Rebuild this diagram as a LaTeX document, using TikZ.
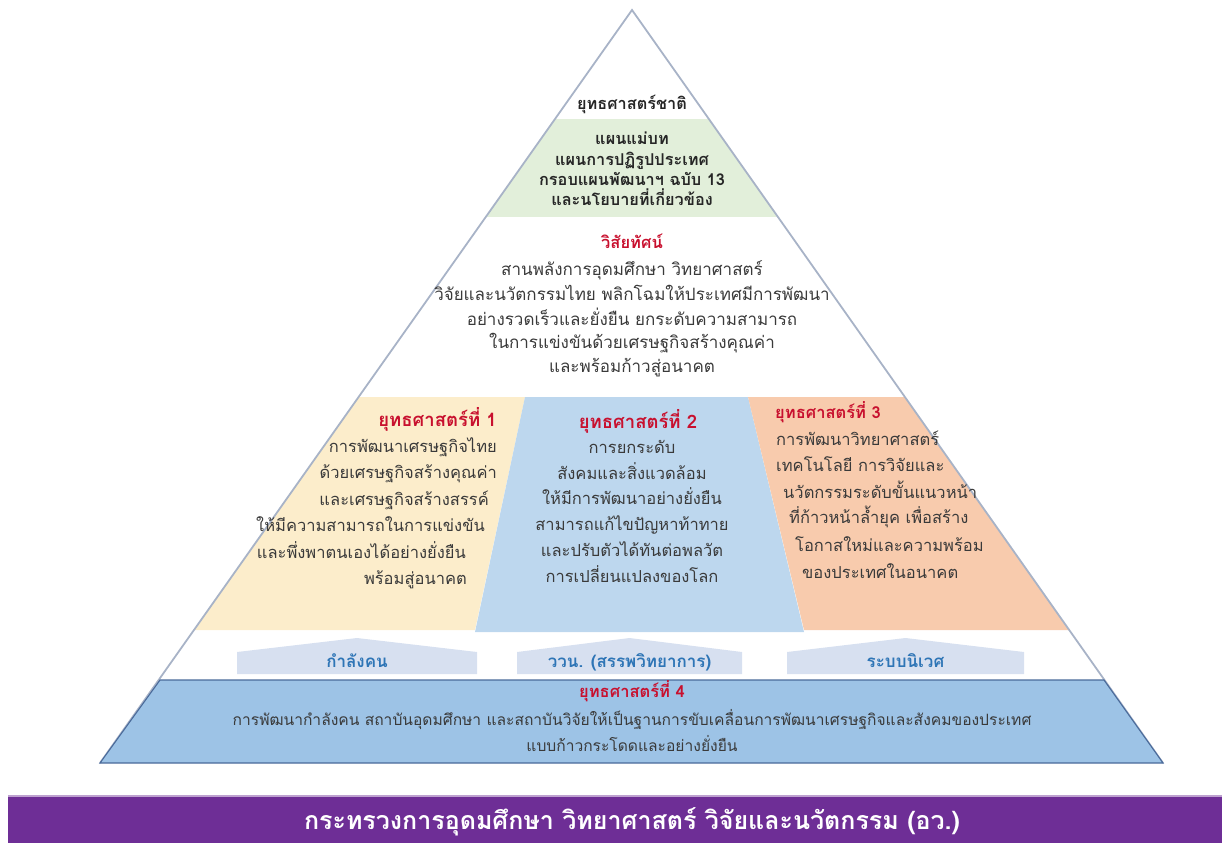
\documentclass[tikz,border=0pt]{standalone}
\usepackage{fontspec}
\setmainfont[Script=Thai]{Loma}
\definecolor{edge}{HTML}{A8B3C7}
\definecolor{greenband}{HTML}{E2EFDA}
\definecolor{yellowband}{HTML}{FCEDCB}
\definecolor{blueband}{HTML}{BDD7EE}
\definecolor{orangeband}{HTML}{F8CBAD}
\definecolor{houseblue}{HTML}{D7E0F0}
\definecolor{baseblue}{HTML}{9DC3E6}
\definecolor{baseline}{HTML}{4A6A9A}
\definecolor{purplebar}{HTML}{6E2E96}
\definecolor{redt}{HTML}{C8102E}
\definecolor{greyt}{HTML}{3A3A3A}
\definecolor{bluet}{HTML}{2E75B6}
\tikzset{
  every node/.style={inner sep=0pt, anchor=base},
  body/.style={text=greyt, font=\fontsize{16.5}{16.5}\selectfont},
  basetext/.style={text=greyt, font=\fontsize{15.6}{15.6}\selectfont},
  vis/.style={text=greyt, font=\fontsize{17}{17}\selectfont},
  redtitle/.style={text=redt, font=\bfseries\fontsize{16.5}{16.5}\selectfont},
  bigredtitle/.style={text=redt, font=\bfseries\fontsize{18.5}{18.5}\selectfont},
  blacktitle/.style={text=black!85, font=\bfseries\fontsize{16.3}{16.3}\selectfont},
  housetext/.style={text=bluet, font=\bfseries\fontsize{17}{17}\selectfont},
  house/.style={fill=houseblue, draw=none},
  bartext/.style={text=white, font=\bfseries\fontsize{25}{25}\selectfont}
}
\begin{document}
\begin{tikzpicture}[x=1pt,y=-1pt]
\useasboundingbox (0,0) rectangle (1222,843);
% triangle corners
\coordinate (apex) at (632,10);
\coordinate (bl) at (100,763);
\coordinate (br) at (1163,763);
% coloured bands clipped to the triangle
\begin{scope}
  \clip (apex) -- (br) -- (bl) -- cycle;
  \fill[greenband] (0,119) rectangle (1222,217);
  \fill[yellowband] (0,397) -- (525,397) -- (475,630) -- (0,630) -- cycle;
  \fill[blueband] (525,397) -- (748,397) -- (804,632) -- (475,632) -- cycle;
  \fill[orangeband] (748,397) -- (1222,397) -- (1222,630) -- (804,630) -- cycle;
\end{scope}
\draw[edge, line width=1.8pt, line join=miter] (bl) -- (apex) -- (br);
% base band (strategy 4)
\draw[fill=baseblue, draw=baseline, line width=1.1pt] (160,680) -- (1104,680) -- (br) -- (bl) -- cycle;
% houses
\fill[house] (237,674) -- (237,652) -- (357,638) -- (477,652) -- (477,674) -- cycle;
\fill[house] (517,674) -- (517,652) -- (629.5,638) -- (742,652) -- (742,674) -- cycle;
\fill[house] (787,674) -- (787,652) -- (905.5,638) -- (1024,652) -- (1024,674) -- cycle;
\node[housetext] (h1) at (357,667) {กำลังคน};
\node[housetext] (h2) at (629.5,667) {ววน. (สรรพวิทยาการ)};
\node[housetext] (h3) at (905.5,667) {ระบบนิเวศ};
% top
\node[blacktitle] (nat) at (632,109) {ยุทธศาสตร์ชาติ};
\node[blacktitle] (g1) at (632,144) {แผนแม่บท};
\node[blacktitle] (g2) at (632,165) {แผนการปฏิรูปประเทศ};
\node[blacktitle] (g3) at (632,185) {กรอบแผนพัฒนาฯ ฉบับ 13};
\node[blacktitle] (g4) at (632,205) {และนโยบายที่เกี่ยวข้อง};
% vision
\node[redtitle] (v0) at (632,248) {วิสัยทัศน์};
\node[vis] (v1) at (632,275) {สานพลังการอุดมศึกษา วิทยาศาสตร์};
\node[vis] (v2) at (632,300) {วิจัยและนวัตกรรมไทย พลิกโฉมให้ประเทศมีการพัฒนา};
\node[vis] (v3) at (632,325) {อย่างรวดเร็วและยั่งยืน ยกระดับความสามารถ};
\node[vis] (v4) at (632,348) {ในการแข่งขันด้วยเศรษฐกิจสร้างคุณค่า};
\node[vis] (v5) at (632,372) {และพร้อมก้าวสู่อนาคต};
% strategy 1
\node[bigredtitle, anchor=base east] (s1t) at (497,426) {ยุทธศาสตร์ที่ 1};
\node[body, anchor=base east] (s1a) at (497,452) {การพัฒนาเศรษฐกิจไทย};
\node[body, anchor=base east] (s1b) at (497,478) {ด้วยเศรษฐกิจสร้างคุณค่า};
\node[body, anchor=base east] (s1c) at (489,505) {และเศรษฐกิจสร้างสรรค์};
\node[body, anchor=base east] (s1d) at (485,531) {ให้มีความสามารถในการแข่งขัน};
\node[body, anchor=base east] (s1e) at (466,558) {และพึ่งพาตนเองได้อย่างยั่งยืน};
\node[body, anchor=base east] (s1f) at (467,584) {พร้อมสู่อนาคต};
% strategy 2
\node[bigredtitle] (s2t) at (638,428) {ยุทธศาสตร์ที่ 2};
\node[body] (s2a) at (632,453) {การยกระดับ};
\node[body] (s2b) at (632,479) {สังคมและสิ่งแวดล้อม};
\node[body] (s2c) at (632,504) {ให้มีการพัฒนาอย่างยั่งยืน};
\node[body] (s2d) at (632,530) {สามารถแก้ไขปัญหาท้าทาย};
\node[body] (s2e) at (632,556) {และปรับตัวได้ทันต่อพลวัต};
\node[body] (s2f) at (632,582) {การเปลี่ยนแปลงของโลก};
% strategy 3
\node[redtitle, anchor=base west] (s3t) at (775,418) {ยุทธศาสตร์ที่ 3};
\node[body, anchor=base west] (s3a) at (776,445) {การพัฒนาวิทยาศาสตร์};
\node[body, anchor=base west] (s3b) at (776,471) {เทคโนโลยี การวิจัยและ};
\node[body, anchor=base west] (s3c) at (783,498) {นวัตกรรมระดับขั้นแนวหน้า};
\node[body, anchor=base west] (s3d) at (789,523) {ที่ก้าวหน้าล้ำยุค เพื่อสร้าง};
\node[body, anchor=base west] (s3e) at (795,551) {โอกาสใหม่และความพร้อม};
\node[body, anchor=base west] (s3f) at (802,578) {ของประเทศในอนาคต};
% strategy 4
\node[redtitle] (s4t) at (632,697) {ยุทธศาสตร์ที่ 4};
\node[basetext] (s4a) at (632,725) {การพัฒนากำลังคน สถาบันอุดมศึกษา และสถาบันวิจัยให้เป็นฐานการขับเคลื่อนการพัฒนาเศรษฐกิจและสังคมของประเทศ};
\node[basetext] (s4b) at (632,751) {แบบก้าวกระโดดและอย่างยั่งยืน};
% ministry bar
\fill[purplebar!45] (8,795) rectangle (1222,797);
\fill[purplebar] (8,797) rectangle (1222,843);
\node[bartext] (bar) at (632,829) {กระทรวงการอุดมศึกษา วิทยาศาสตร์ วิจัยและนวัตกรรม (อว.)};
\end{tikzpicture}
\end{document}
